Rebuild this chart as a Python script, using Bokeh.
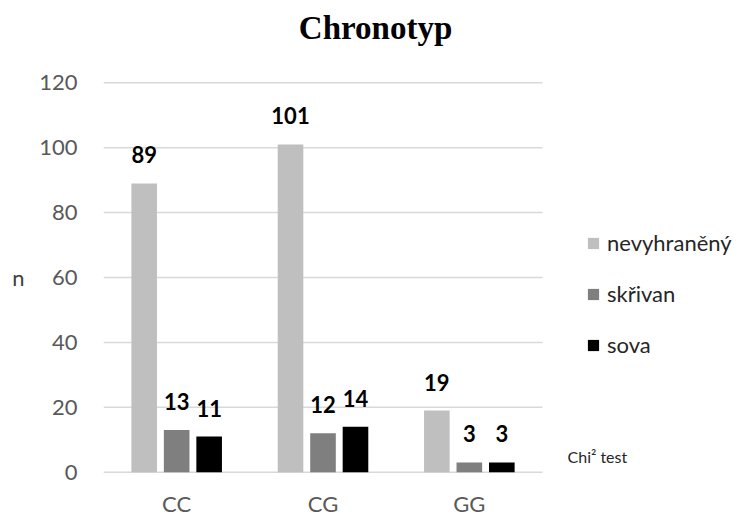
from bokeh.plotting import figure
from bokeh.models import (ColumnDataSource, Range1d, LabelSet, Label,
                          Legend, LegendItem, FixedTicker, LinearAxis)
from bokeh.core.properties import value
from bokeh.transform import dodge
from bokeh.embed import file_html
from bokeh.resources import INLINE

# Genotype groups and chronotype counts
genotypes = ["CC", "CG", "GG"]
series_names = ["nevyhraněný", "skřivan", "sova"]
nevyhraneny = [89, 101, 19]
skrivan = [13, 12, 3]
sova = [11, 14, 3]
y_ticks = [0, 20, 40, 60, 80, 100, 120]
y_title = "n"

series_values = [nevyhraneny, skrivan, sova]
series_colors = ["#bfbfbf", "#7f7f7f", "#000000"]
offsets = [-0.222, 0.0, 0.222]
bar_width = 0.175

FONT = "Lato"

# group centres on a numeric axis; the frame also holds the title,
# legend and note, so it extends past the plotted groups
centers = [i + 0.5 for i in range(len(genotypes))]
n_groups = len(genotypes)
x_end = n_groups * 648 / 439

p = figure(
    width=751, height=515,
    frame_width=648, frame_height=473,
    x_range=Range1d(0, x_end),
    y_range=Range1d(-0.4, 145.36),
    output_backend="svg", toolbar_location=None,
    min_border_left=103, min_border_right=0,
    min_border_top=0, min_border_bottom=0,
)
p.outline_line_color = None
p.background_fill_color = "white"
p.border_fill_color = "white"

# horizontal gridlines only across the plotted groups
p.segment(x0=0, x1=n_groups, y0=y_ticks, y1=y_ticks,
          line_color="#d9d9d9", line_width=1.5)

legend_items = []
for name, vals, color, off in zip(series_names, series_values, series_colors, offsets):
    src = ColumnDataSource(dict(x=centers, v=vals, t=[str(v) for v in vals]))
    r = p.vbar(x=dodge("x", off), top="v", bottom=0, width=bar_width,
               source=src, fill_color=color, line_color=None)
    legend_items.append(LegendItem(label=name, renderers=[r]))
    p.add_layout(LabelSet(x=dodge("x", off), y="v", text="t",
                          source=src, y_offset=20, text_align="center",
                          text_baseline="alphabetic", text_font=value(FONT),
                          text_font_style="bold", text_font_size="22px",
                          text_color="#000000"))

# axes
p.xaxis.ticker = FixedTicker(ticks=centers)
p.xaxis.major_label_overrides = {c: g for c, g in zip(centers, genotypes)}
p.xaxis.axis_line_color = None
p.xaxis.major_tick_line_color = None
p.xaxis.minor_tick_line_color = None
p.xaxis.major_label_standoff = 10
p.xaxis.axis_label_standoff = 0
p.xaxis.major_label_text_font = FONT
p.xaxis.major_label_text_font_size = "22px"
p.xaxis.major_label_text_color = "#595959"

p.yaxis.ticker = FixedTicker(ticks=y_ticks)
p.yaxis.axis_line_color = None
p.yaxis.major_tick_line_color = None
p.yaxis.minor_tick_line_color = None
p.yaxis.major_label_standoff = 20
p.yaxis.axis_label_standoff = 0
p.yaxis.major_label_text_font = FONT
p.yaxis.major_label_text_font_size = "22px"
p.yaxis.major_label_text_color = "#595959"

# the "n" caption sits level with the middle of the value scale
mid_tick = (y_ticks[0] + y_ticks[-1]) / 2
n_axis = LinearAxis(ticker=FixedTicker(ticks=[mid_tick]),
                    major_label_overrides={mid_tick: y_title},
                    axis_line_color=None, major_tick_line_color=None,
                    minor_tick_line_color=None, major_tick_out=0,
                    major_label_standoff=12, axis_label_standoff=0,
                    major_label_text_font=FONT, major_label_text_font_size="22px",
                    major_label_text_color="#404040")
p.add_layout(n_axis, "left")

p.xgrid.grid_line_color = None
p.ygrid.grid_line_color = None

# title
p.add_layout(Label(x=1.859, y=137.0, text="Chronotyp", text_align="center",
                   text_baseline="middle", text_font="Liberation Serif",
                   text_font_style="bold", text_font_size="33px",
                   text_color="#000000"))

# note
p.add_layout(Label(x=3.171, y=4.9, text="Chi² test", text_align="left",
                   text_baseline="middle", text_font=FONT,
                   text_font_size="16px", text_color="#262626"))

legend = Legend(items=legend_items, location=(483, 115),
                glyph_width=14, glyph_height=14, label_height=14,
                label_standoff=7, spacing=24, padding=0, margin=0,
                label_text_font=FONT, label_text_font_size="22px",
                label_text_color="#262626",
                border_line_color=None, background_fill_alpha=0)
p.add_layout(legend)

open("out.html", "w").write(file_html(p, INLINE))
